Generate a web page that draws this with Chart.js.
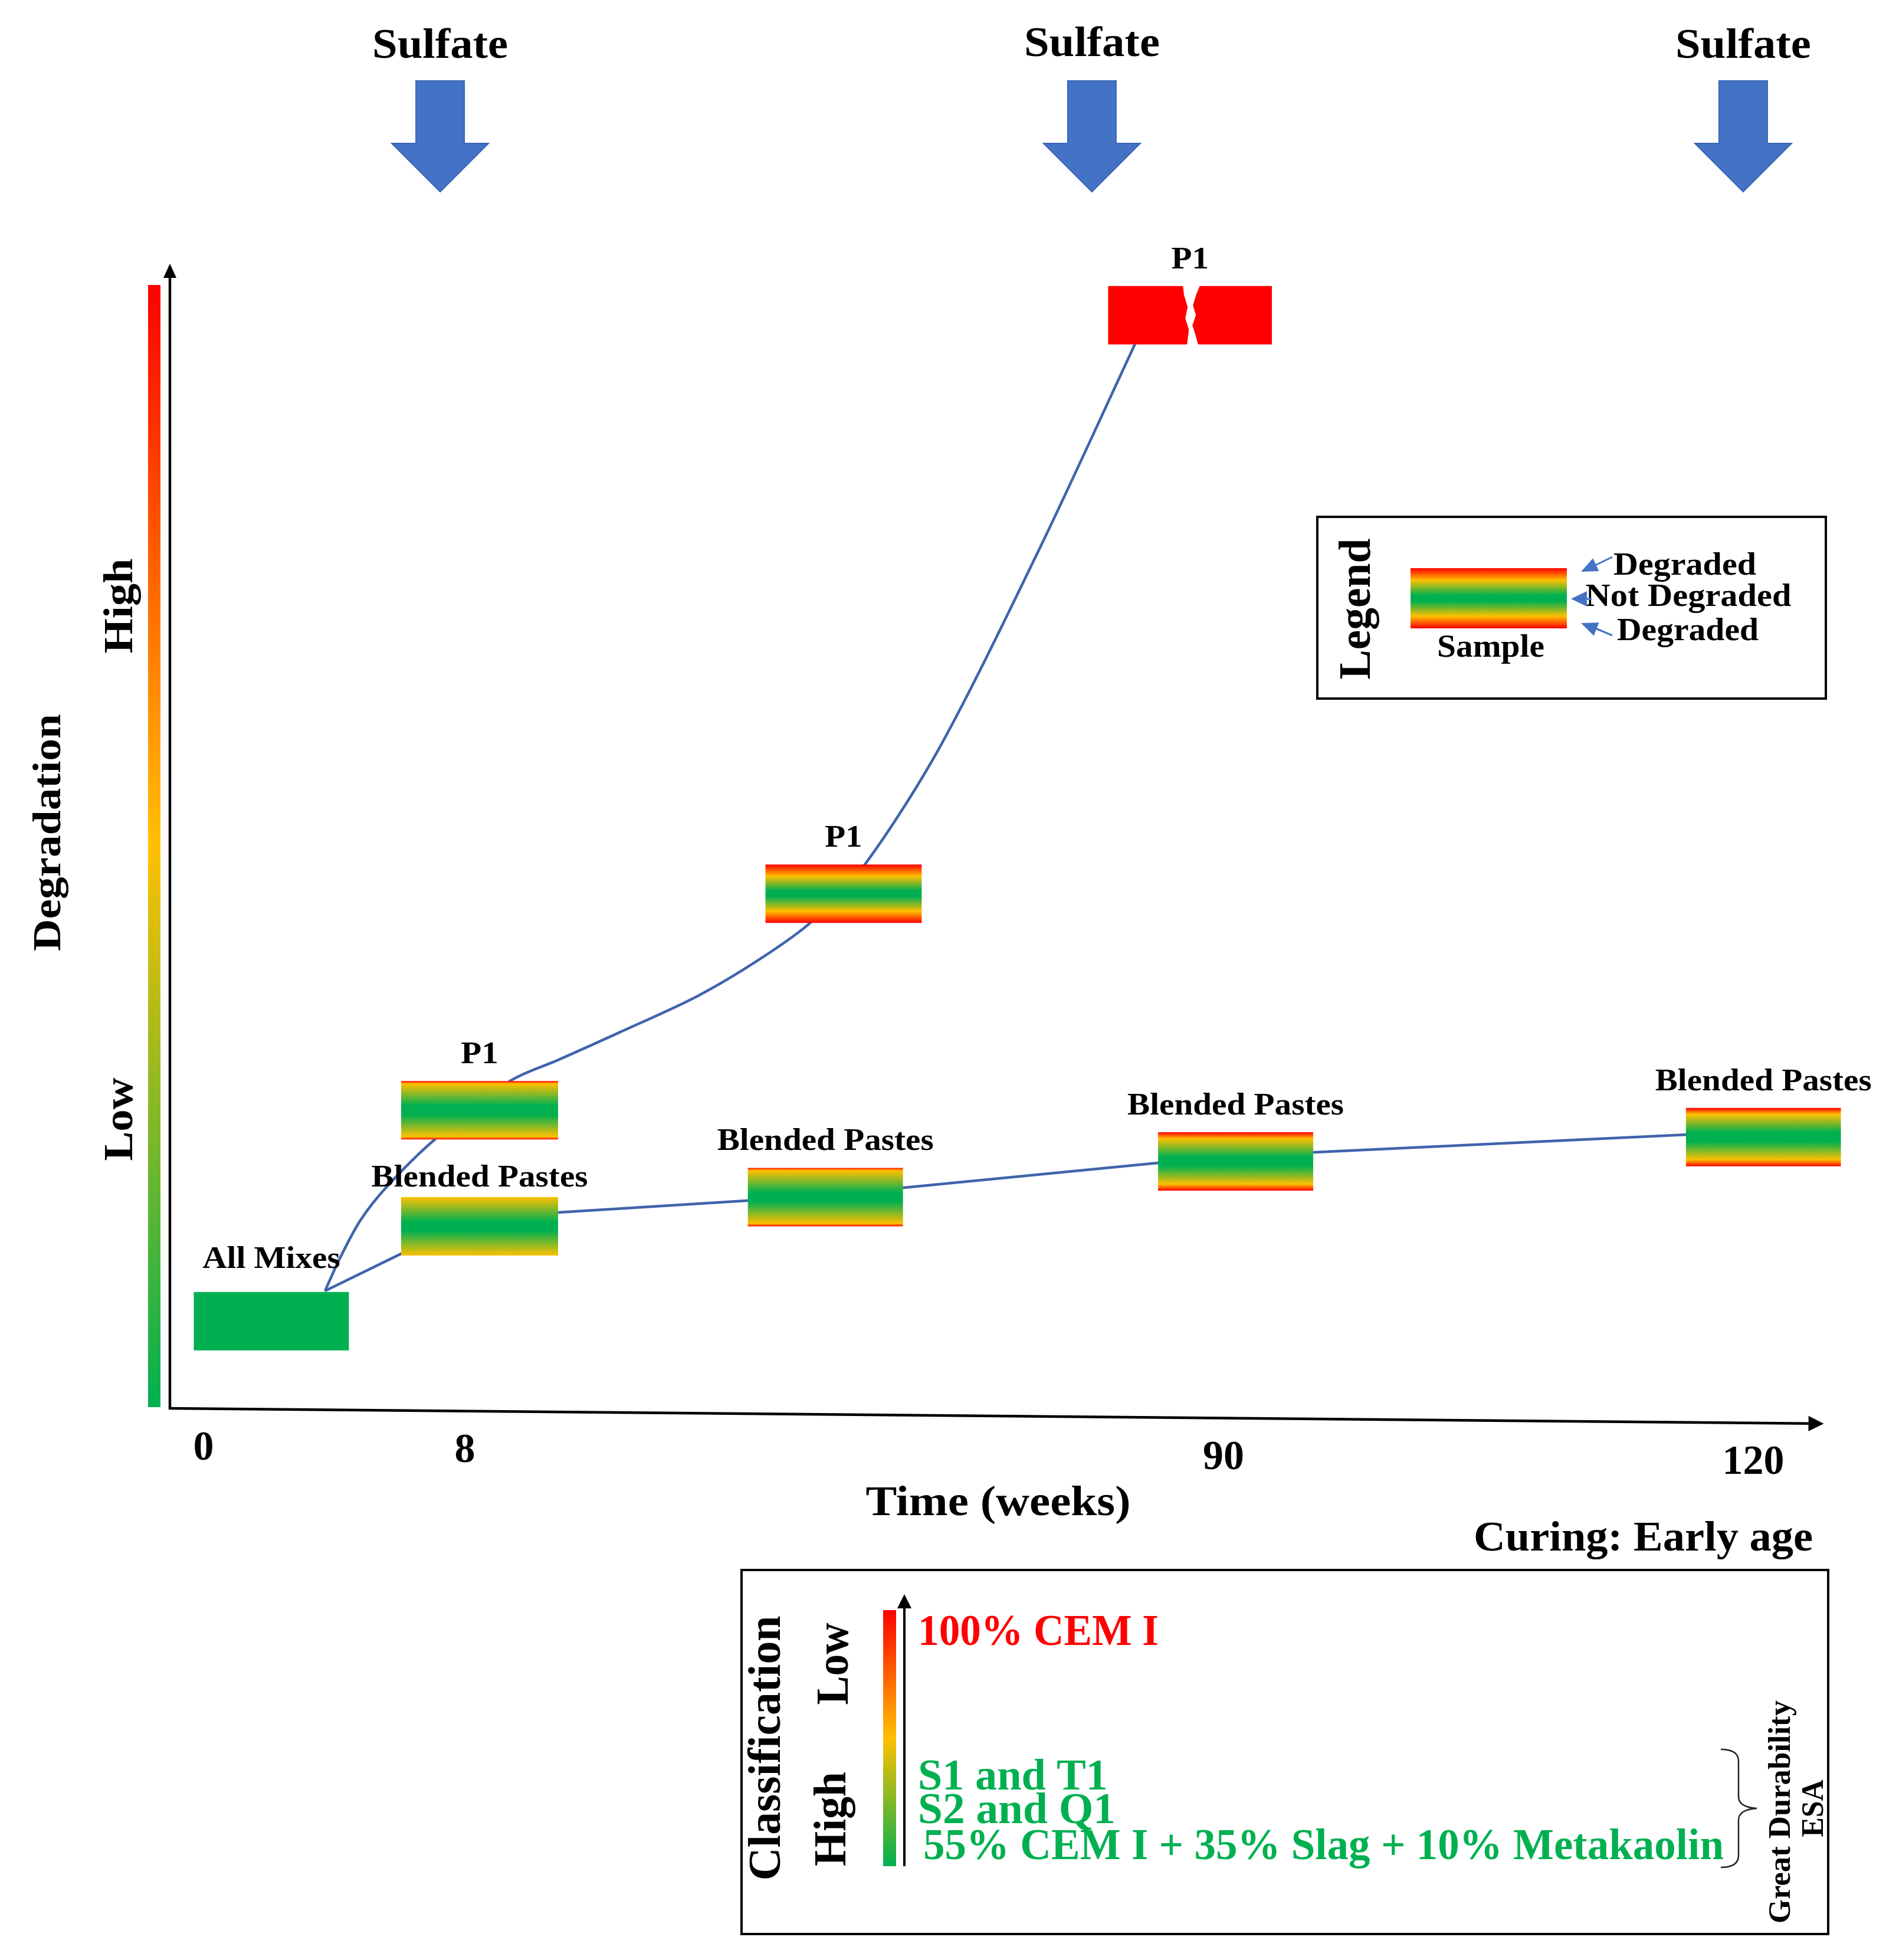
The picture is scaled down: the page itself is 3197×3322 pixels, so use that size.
<!DOCTYPE html>
<html>
<head>
<meta charset="utf-8">
<script src="https://cdn.jsdelivr.net/npm/chart.js@4.4.1/dist/chart.umd.min.js"></script>
<style>html,body{margin:0;padding:0;background:#fff;}canvas{display:block;}</style>
</head>
<body>
<canvas id="c" width="3197" height="3322" style="width:3197px;height:3322px"></canvas>
<script>
// ---------------- DATA ----------------
// Samples (boxes): timeline position (axis units) and degradation level (0-100)
const sampleNames = ['All Mixes', 'P1', 'Blended Pastes', 'P1', 'Blended Pastes', 'P1', 'Blended Pastes', 'Blended Pastes'];
const sampleStart = [1.44, 13.94, 13.94, 35.90, 34.84, 56.56, 59.57, 91.39];
const sampleEnd   = [10.79, 23.40, 23.40, 45.32, 44.19, 66.43, 68.92, 100.73];
const sampleLevel = [7.62, 26.04, 15.90, 44.96, 18.46, 95.50, 21.57, 23.70];
const sampleState = ['intact', 'edge', 'slight', 'severe', 'edge', 'broken', 'moderate', 'moderate'];

// P1 degradation path
const p1PathX = [9.35, 10.24, 11.49, 13.12, 15.90, 20.52, 23.44, 27.10, 31.76, 35.60, 38.69, 41.93, 46.44, 52.49, 58.18];
const p1PathY = [10.26, 13.09, 16.44, 19.43, 23.40, 28.61, 30.46, 32.84, 35.98, 39.28, 42.53, 47.58, 57.84, 75.31, 92.99];

// Blended pastes degradation path
const blendPathX = [9.35, 13.94, 23.40, 34.78, 44.24, 59.57, 68.99, 91.50];
const blendPathY = [10.26, 13.51, 17.11, 18.14, 19.28, 21.44, 22.37, 23.92];

// Time axis ticks
const timeTickLabels = ['0', '8', '90', '120'];
const timeTickPos = [2.03, 17.78, 63.51, 95.45];

// Sulfate exposure markers
const sulfateLabels = ['Sulfate', 'Sulfate', 'Sulfate'];
const sulfatePos = [16.29, 55.58, 94.84];

// Texts
const xTitle = 'Time (weeks)';
const yTitle = 'Degradation';
const yLevels = ['High', 'Low'];
const curingText = 'Curing: Early age';
const legendTitle = 'Legend';
const legendItems = ['Degraded', 'Not Degraded', 'Degraded'];
const legendSample = 'Sample';
const classTitle = 'Classification';
const classLevels = ['Low', 'High'];
const classItems = ['100% CEM I', 'S1 and T1', 'S2 and Q1', '55% CEM I + 35% Slag + 10% Metakaolin'];
const classItemGroup = ['low', 'high', 'high', 'high'];
const braceTexts = ['Great Durability', 'ESA'];

// ---------------- STYLE ----------------
const W = 3197, H = 3322;
const AREA = { left: 288, right: 3100, top: 447, bottom: 2387 };
const AXIS_END = 99.7;
const FONT = "'Liberation Serif', 'DejaVu Serif', serif";
const RED = '#FF0000', GOLD = '#FFC000', GREEN = '#00B050', BLUE = '#4472C4', LINE = '#3F64AC';
const BOX_H = 99;
const LABEL_GAPS = [41, 30, 18, 30, 30, 30, 30, 30];
const stateStops = {
  intact: [[0, GREEN], [1, GREEN]],
  slight: [[0, GOLD], [0.42, GREEN], [0.58, GREEN], [1, GOLD]],
  edge: [[0, RED], [0.045, GOLD], [0.42, GREEN], [0.58, GREEN], [0.955, GOLD], [1, RED]],
  moderate: [[0, RED], [0.11, GOLD], [0.42, GREEN], [0.58, GREEN], [0.89, GOLD], [1, RED]],
  severe: [[0, RED], [0.2, GOLD], [0.45, GREEN], [0.55, GREEN], [0.8, GOLD], [1, RED]],
  broken: [[0, RED], [1, RED]]
};
const scaleStops = [[0, RED], [0.5, GOLD], [1, GREEN]];

function vGrad(ctx, top, bottom, stops) {
  const g = ctx.createLinearGradient(0, top, 0, bottom);
  stops.forEach(s => g.addColorStop(s[0], s[1]));
  return g;
}

function txt(ctx, s, x, y, o) {
  ctx.save();
  ctx.font = (o.weight || 'bold') + ' ' + o.size + 'px ' + FONT;
  ctx.fillStyle = o.color || '#000';
  ctx.textBaseline = o.baseline || 'alphabetic';
  ctx.textAlign = 'left';
  const w = ctx.measureText(s).width;
  const sx = o.width ? o.width / w : (o.sx || 1);
  ctx.translate(x, y);
  if (o.rot) ctx.rotate(o.rot);
  ctx.scale(sx, 1);
  const a = o.align || 'center';
  const dx = a === 'center' ? -w / 2 : (a === 'right' ? -w : 0);
  ctx.fillText(s, dx, 0);
  ctx.restore();
}

function head(ctx, tx, ty, fx, fy, len, half, color) {
  const dx = tx - fx, dy = ty - fy, d = Math.hypot(dx, dy);
  const ux = dx / d, uy = dy / d;
  const bx = tx - ux * len, by = ty - uy * len;
  ctx.save();
  ctx.fillStyle = color;
  ctx.beginPath();
  ctx.moveTo(tx, ty);
  ctx.lineTo(bx - uy * half, by + ux * half);
  ctx.lineTo(bx + uy * half, by - ux * half);
  ctx.closePath();
  ctx.fill();
  ctx.restore();
}

function seg(ctx, x1, y1, x2, y2, color, w) {
  ctx.save();
  ctx.strokeStyle = color; ctx.lineWidth = w;
  ctx.beginPath(); ctx.moveTo(x1, y1); ctx.lineTo(x2, y2); ctx.stroke();
  ctx.restore();
}

function drawCrack(ctx, l, r, top, bot) {
  const cx = (l + r) / 2 + 1, h = bot - top, k = (r - l) / 278;
  const left = [[-13, 0], [-11, 0.16], [-5, 0.36], [-9, 0.55], [-3, 0.75], [-6, 1]];
  const right = [[13, 1], [8, 0.83], [3, 0.67], [9, 0.5], [4, 0.33], [10, 0.13], [16, 0]];
  ctx.save();
  ctx.fillStyle = '#fff';
  ctx.beginPath();
  ctx.moveTo(cx + left[0][0] * k, top - 1);
  left.forEach(p => ctx.lineTo(cx + p[0] * k, top + p[1] * h + (p[1] === 1 ? 1 : 0)));
  right.forEach(p => ctx.lineTo(cx + p[0] * k, top + p[1] * h + (p[1] === 1 ? 1 : (p[1] === 0 ? -1 : 0))));
  ctx.closePath();
  ctx.fill();
  ctx.restore();
}

function boxFill(c) {
  if (c.type !== 'data') return GREEN;
  const chart = c.chart, ys = chart.scales.y;
  const st = stateStops[sampleState[c.dataIndex]];
  if (!ys || !chart.chartArea) return st[0][1];
  const yc = ys.getPixelForValue(sampleLevel[c.dataIndex]);
  if (!isFinite(yc)) return st[0][1];
  return vGrad(chart.ctx, yc - BOX_H / 2, yc + BOX_H / 2, st);
}

const decor = {
  id: 'decor',
  beforeDraw(chart) {
    const ctx = chart.ctx;
    ctx.save(); ctx.fillStyle = '#fff'; ctx.fillRect(0, 0, chart.width, chart.height); ctx.restore();
  },
  afterDatasetsDraw(chart) {
    const ctx = chart.ctx;
    const meta = chart.getDatasetMeta(0);
    meta.data.forEach((bar, i) => {
      const p = bar.getProps(['x', 'y', 'base', 'height'], true);
      const l = Math.min(p.x, p.base), r = Math.max(p.x, p.base);
      const top = p.y - p.height / 2, bot = p.y + p.height / 2;
      if (sampleState[i] === 'broken') drawCrack(ctx, l, r, top, bot);
      txt(ctx, sampleNames[i], (l + r) / 2, top - LABEL_GAPS[i], { size: 52, sx: 1.1 });
    });
  },
  afterDraw(chart) {
    const ctx = chart.ctx;
    const xs = chart.scales.x, ys = chart.scales.y;
    const x0 = xs.getPixelForValue(0), y0 = ys.getPixelForValue(0);
    const yTop = ys.getPixelForValue(100);
    const xEnd = xs.getPixelForValue(AXIS_END), yEnd = y0 + 26;
    const axisYAt = x => y0 + (x - x0) * (yEnd - y0) / (xEnd - x0);

    // degradation colour scale
    ctx.fillStyle = vGrad(ctx, 483, 2385, scaleStops);
    ctx.fillRect(251, 483, 21, 1902);

    // y axis arrow
    seg(ctx, x0, y0 + 1, x0, yTop + 20, '#000', 4.5);
    head(ctx, x0, yTop, x0, yTop + 30, 24, 11, '#000');
    // x axis arrow
    seg(ctx, x0 - 2, y0, xEnd - 20, axisYAt(xEnd - 20), '#000', 4.5);
    head(ctx, xEnd, yEnd, x0, y0, 26, 13, '#000');

    // x ticks
    timeTickLabels.forEach((t, i) => {
      const px = xs.getPixelForValue(timeTickPos[i]);
      txt(ctx, t, px, axisYAt(px) + 86, { size: 70 });
    });
    txt(ctx, xTitle, 1692, 2568, { size: 72, width: 449 });
    txt(ctx, curingText, 3073, 2628, { size: 72, width: 575, align: 'right' });

    // y titles
    txt(ctx, yTitle, 102, 1411, { size: 68, width: 402, rot: -Math.PI / 2 });
    txt(ctx, yLevels[0], 224, 1027, { size: 70, width: 161, rot: -Math.PI / 2 });
    txt(ctx, yLevels[1], 224, 1897, { size: 70, width: 141, rot: -Math.PI / 2 });

    // sulfate arrows
    sulfatePos.forEach((v, i) => {
      const cx = xs.getPixelForValue(v);
      txt(ctx, sulfateLabels[i], cx, i === 1 ? 95 : 98, { size: 72, width: 230 });
      ctx.save();
      ctx.fillStyle = BLUE;
      ctx.strokeStyle = '#3A66B8';
      ctx.lineWidth = 2;
      ctx.beginPath();
      ctx.moveTo(cx - 41, 137); ctx.lineTo(cx + 41, 137); ctx.lineTo(cx + 41, 243);
      ctx.lineTo(cx + 82, 243); ctx.lineTo(cx, 325); ctx.lineTo(cx - 82, 243);
      ctx.lineTo(cx - 41, 243); ctx.closePath();
      ctx.fill(); ctx.stroke();
      ctx.restore();
    });

    // legend box
    ctx.save();
    ctx.strokeStyle = '#000'; ctx.lineWidth = 4;
    ctx.strokeRect(2233, 876, 862, 308);
    ctx.restore();
    txt(ctx, legendTitle, 2322, 1032, { size: 76, width: 239, rot: -Math.PI / 2 });
    ctx.fillStyle = vGrad(ctx, 963, 1065, stateStops.severe);
    ctx.fillRect(2391, 963, 265, 102);
    txt(ctx, legendSample, 2527, 1113, { size: 55, width: 182 });
    txt(ctx, legendItems[0], 2856, 974, { size: 55, width: 242 });
    txt(ctx, legendItems[1], 2862, 1027, { size: 55, width: 349 });
    txt(ctx, legendItems[2], 2861, 1085, { size: 55, width: 240 });
    seg(ctx, 2733, 944, 2700, 960, BLUE, 3);
    head(ctx, 2680, 969, 2733, 944, 28, 12, BLUE);
    seg(ctx, 2698, 1015, 2686, 1015, BLUE, 3);
    head(ctx, 2663, 1015, 2698, 1015, 27, 13, BLUE);
    seg(ctx, 2733, 1077, 2700, 1063, BLUE, 3);
    head(ctx, 2680, 1056, 2733, 1077, 28, 12, BLUE);

    // classification box
    ctx.save();
    ctx.strokeStyle = '#000'; ctx.lineWidth = 4;
    ctx.strokeRect(1257, 2661, 1842, 617);
    ctx.restore();
    txt(ctx, classTitle, 1322, 2963, { size: 78, width: 449, rot: -Math.PI / 2 });
    txt(ctx, classLevels[0], 1437, 2820, { size: 78, width: 139, rot: -Math.PI / 2 });
    txt(ctx, classLevels[1], 1433, 3083, { size: 78, width: 160, rot: -Math.PI / 2 });
    ctx.fillStyle = vGrad(ctx, 2729, 3163, scaleStops);
    ctx.fillRect(1497, 2729, 22, 434);
    seg(ctx, 1533, 3163, 1533, 2722, '#000', 4);
    head(ctx, 1533, 2702, 1533, 2740, 24, 12, '#000');
    const itemPos = [[1556, 2788, 408], [1556, 3033, 322], [1556, 3090, 335], [1565, 3151, 1357]];
    classItems.forEach((s, i) => {
      txt(ctx, s, itemPos[i][0], itemPos[i][1], { size: 74, width: itemPos[i][2], align: 'left', color: classItemGroup[i] === 'low' ? RED : GREEN });
    });
    // brace
    ctx.save();
    ctx.strokeStyle = '#222'; ctx.lineWidth = 2.5;
    ctx.beginPath();
    ctx.moveTo(2917, 2965);
    ctx.quadraticCurveTo(2947, 2965, 2947, 2985);
    ctx.lineTo(2947, 3045);
    ctx.quadraticCurveTo(2947, 3063, 2978, 3065);
    ctx.quadraticCurveTo(2947, 3067, 2947, 3085);
    ctx.lineTo(2947, 3145);
    ctx.quadraticCurveTo(2947, 3165, 2917, 3165);
    ctx.stroke();
    ctx.restore();
    txt(ctx, braceTexts[0], 3034, 3071, { size: 52, width: 378, rot: -Math.PI / 2 });
    txt(ctx, braceTexts[1], 3090, 3065, { size: 52, width: 97, rot: -Math.PI / 2 });
  }
};

const chart = new Chart(document.getElementById('c'), {
  type: 'scatter',
  data: {
    datasets: [
      {
        type: 'bar',
        indexAxis: 'y',
        data: sampleLevel.map((y, i) => ({ y: y, x: [sampleStart[i], sampleEnd[i]] })),
        barThickness: BOX_H,
        backgroundColor: boxFill,
        borderWidth: 0,
        inflateAmount: 0,
        clip: false,
        order: 1
      },
      {
        type: 'line',
        data: p1PathX.map((x, i) => ({ x: x, y: p1PathY[i] })),
        borderColor: LINE,
        borderWidth: 4.5,
        pointRadius: 0,
        tension: 0.3,
        fill: false,
        clip: false,
        order: 2
      },
      {
        type: 'line',
        data: blendPathX.map((x, i) => ({ x: x, y: blendPathY[i] })),
        borderColor: LINE,
        borderWidth: 4.5,
        pointRadius: 0,
        tension: 0,
        fill: false,
        clip: false,
        order: 3
      }
    ]
  },
  options: {
    responsive: false,
    animation: false,
    devicePixelRatio: 1,
    events: [],
    layout: { padding: { left: AREA.left, right: W - AREA.right, top: AREA.top, bottom: H - AREA.bottom } },
    scales: {
      x: { type: 'linear', min: 0, max: 100, display: false, offset: false },
      y: { type: 'linear', min: 0, max: 100, display: false, offset: false }
    },
    plugins: { legend: { display: false }, tooltip: { enabled: false }, title: { display: false } }
  },
  plugins: [decor]
});
</script>
</body>
</html>
